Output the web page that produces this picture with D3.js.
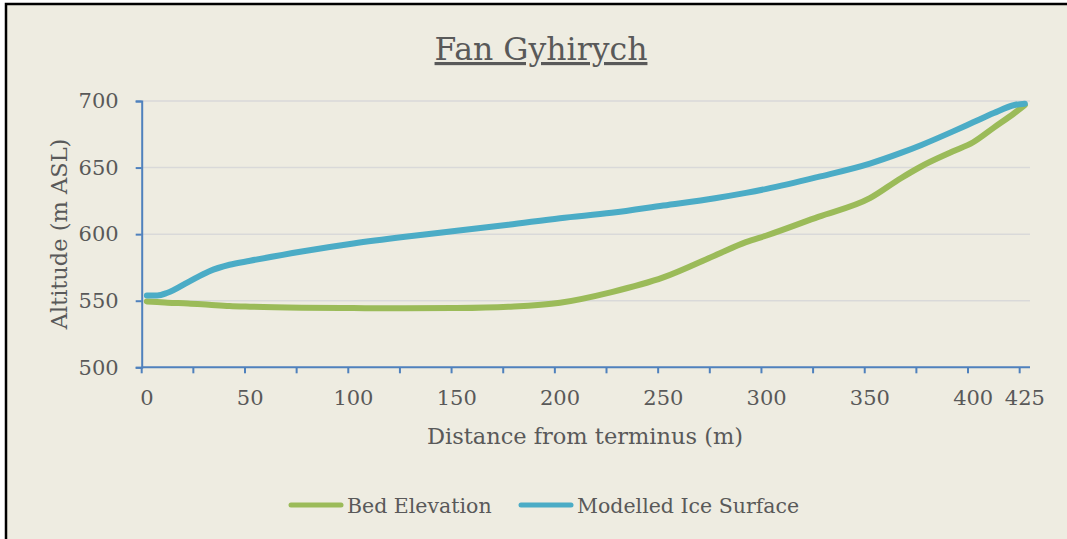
<!DOCTYPE html>
<html><head><meta charset="utf-8">
<script src="https://cdn.jsdelivr.net/npm/d3@7"></script>
<style>
html,body{margin:0;padding:0;background:#fff;}
svg{display:block;}
</style></head>
<body>
<svg id="c" width="1067" height="539"></svg>
<script>
const title = "Fan Gyhirych";
const xTitle = "Distance from terminus (m)";
const yTitle = "Altitude (m ASL)";
const distance = [0,5,10,20,30,40,50,75,100,125,150,175,200,225,250,275,290,300,325,350,365,375,390,400,410,420,425];
const bedElevation = [549.5,549,548.5,548,547,546,545.5,544.8,544.5,544.3,544.5,545.5,548.5,556.5,567.5,584,594,599,613,627,642,651,662,669,680,691,697];
const iceSurface = [554,554,556,564,572,577,580,587,593,598,602.5,607,612,616,621.5,627,631,634,643,653,661,667,677,684,691,697,698];
const xTickLabels = [0,50,100,150,200,250,300,350,400,425];
const yTickLabels = [500,550,600,650,700];
const seriesNames = ["Bed Elevation","Modelled Ice Surface"];
const seriesColors = ["#9BBB59","#4BACC6"];

const svg = d3.select("#c");
const FONT = "'DejaVu Serif', serif";
const TXT = "#595959";

svg.append("rect").attr("x",6).attr("y",4).attr("width",1070).attr("height",540)
  .attr("fill","#EEECE1").attr("stroke","#000").attr("stroke-width",2.5);

const x = d3.scaleLinear().domain([-2.5,427.5]).range([141.7,1030]);
const y = d3.scaleLinear().domain([500,700]).range([367.3,101]);

svg.append("g").selectAll("line").data(yTickLabels.filter(v=>v>500)).join("line")
  .attr("x1",x(-2.5)).attr("x2",x(427.5)).attr("y1",d=>y(d)).attr("y2",d=>y(d))
  .attr("stroke","#D9D9D9").attr("stroke-width",1.5);

const yAxis = d3.axisLeft(y).tickValues(yTickLabels).tickSize(6).tickPadding(17);
const gy = svg.append("g").attr("transform",`translate(${x(-2.5)},0)`).call(yAxis);
gy.select(".domain").attr("stroke","#4F81BD").attr("stroke-width",2);
gy.selectAll(".tick line").attr("stroke","#4F81BD").attr("stroke-width",2);
gy.selectAll(".tick text").attr("fill",TXT).style("font-family",FONT).style("font-size","21px");

const tickVals = d3.range(0,18).map(k=>-2.5+25*k);
const gx = svg.append("g").attr("transform",`translate(0,${y(500)})`);
gx.append("line").attr("x1",x(-2.5)).attr("x2",x(427.5)).attr("stroke","#4F81BD").attr("stroke-width",2);
gx.selectAll(".tk").data(tickVals).join("line").attr("class","tk")
  .attr("x1",d=>x(d)).attr("x2",d=>x(d)).attr("y1",0).attr("y2",6)
  .attr("stroke","#4F81BD").attr("stroke-width",2);
gx.selectAll(".lb").data(xTickLabels).join("text").attr("class","lb")
  .attr("x",d=>x(d)).attr("y",38).attr("text-anchor","middle")
  .attr("fill",TXT).style("font-family",FONT).style("font-size","21px").text(d=>d);

const line = d3.line().x(d=>x(d[0])).y(d=>y(d[1])).curve(d3.curveMonotoneX);
[bedElevation, iceSurface].forEach((vals,i)=>{
  svg.append("path").datum(distance.map((dd,j)=>[dd,vals[j]]))
    .attr("d",line).attr("fill","none").attr("stroke",seriesColors[i])
    .attr("stroke-width",6).attr("stroke-linecap","round").attr("stroke-linejoin","round");
});

svg.append("text").attr("x",541).attr("y",60).attr("text-anchor","middle")
  .attr("fill",TXT).style("font-family",FONT).style("font-size","31.5px")
  .style("text-decoration","underline").text(title);
svg.append("text").attr("x",585).attr("y",444).attr("text-anchor","middle")
  .attr("fill",TXT).style("font-family",FONT).style("font-size","22.5px").text(xTitle);
svg.append("text").attr("transform","translate(67,234) rotate(-90)").attr("text-anchor","middle")
  .attr("fill",TXT).style("font-family",FONT).style("font-size","22.5px").text(yTitle);

const lg = svg.append("g");
const legendX = [289,519];
seriesNames.forEach((n,i)=>{
  lg.append("line").attr("x1",legendX[i]+2).attr("x2",legendX[i]+52).attr("y1",505).attr("y2",505)
    .attr("stroke",seriesColors[i]).attr("stroke-width",5).attr("stroke-linecap","round");
  lg.append("text").attr("x",legendX[i]+58).attr("y",513).attr("fill",TXT)
    .style("font-family",FONT).style("font-size","20.5px").text(n);
});
</script>
</body></html>
